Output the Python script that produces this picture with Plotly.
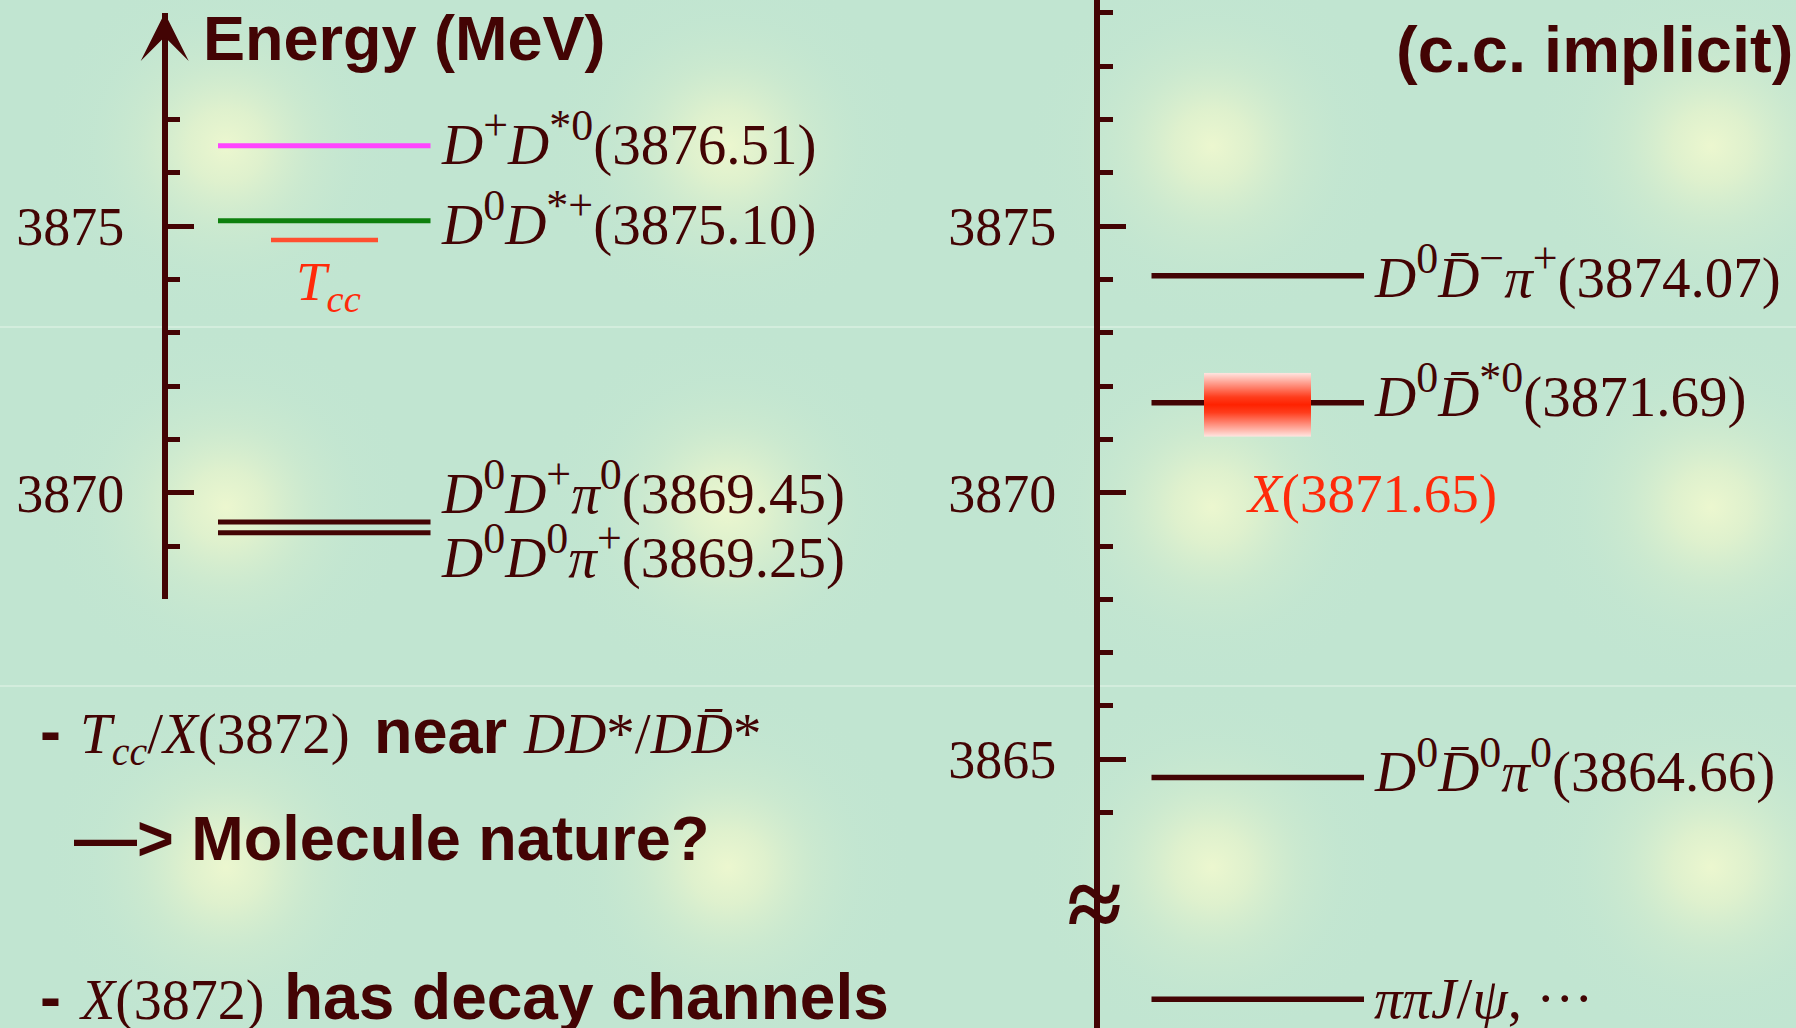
import base64
import plotly.graph_objects as go

# ---------------- data ----------------
SUP = '<sup><span style="font-size:44px">{}</span></sup>'

left_masses = [3876.51, 3875.10, 3869.45, 3869.25]
left_names = [
    "<i>D</i>" + SUP.format("+") + "<i>D</i>" + SUP.format("*0"),
    "<i>D</i>" + SUP.format("0") + "<i>D</i>" + SUP.format("*+"),
    "<i>D</i>" + SUP.format("0") + "<i>D</i>" + SUP.format("+") + "<i>π</i>" + SUP.format("0"),
    "<i>D</i>" + SUP.format("0") + "<i>D</i>" + SUP.format("0") + "<i>π</i>" + SUP.format("+"),
]
tcc_threshold = 3875.10
tcc_binding = 0.36

right_masses = [3874.07, 3871.69, 3864.66]
right_names = [
    "<i>D</i>" + SUP.format("0") + "<i>D\u0304</i>" + SUP.format("\u2212") + "<i>π</i>" + SUP.format("+"),
    "<i>D</i>" + SUP.format("0") + "<i>D\u0304</i>" + SUP.format("*0"),
    "<i>D</i>" + SUP.format("0") + "<i>D\u0304</i>" + SUP.format("0") + "<i>π</i>" + SUP.format("0"),
]
x3872_mass = 3871.65
x3872_band = [3871.05, 3872.25]
other_level = 3860.5          # schematic position below the axis break
other_name = "<i>ππJ</i>/<i>ψ</i>, ···"

left_axis_range = [3868, 3879]
left_major_ticks = [3870, 3875]
left_minor_ticks = [3869, 3871, 3872, 3873, 3874, 3876, 3877]
right_major_ticks = [3865, 3870, 3875]
right_minor_ticks = [3864, 3866, 3867, 3868, 3869, 3871, 3872, 3873, 3874,
                     3876, 3877, 3878, 3879]

# ---------------- layout / style constants ----------------
W, H = 1796, 1028
PX_PER_MEV = 53.31
E_REF, E_REF_PX = 3875.0, 226.2
LEFT_AXIS_X, RIGHT_AXIS_X = 164.7, 1096.7
LEFT_LINE_X = [218, 430.5]
RIGHT_LINE_X = [1151.5, 1364]
TCC_LINE_X = [271, 378]
XBOX_X = [1204, 1311]
LEFT_LABEL_X, RIGHT_LABEL_X = 441, 1374
LEFT_LABEL_OFF = [19.3, 24.1, -8.7, 45.3]     # baseline below level line (px)
RIGHT_LABEL_OFF = [21.5, 14.2, 14.0]
OTHER_LABEL_OFF = 18.7

DARK = "#430404"
RED = "#ff2a0a"
LEFT_COLORS = ["#ff45ff", "#0e800e", DARK, DARK]
SERIF = "Liberation Serif"
SANS = "Liberation Sans"
LBL = 57
ASC, DESC = 0.891, 0.216


def e2px(e):
    return E_REF_PX + (E_REF - e) * PX_PER_MEV


def px2e(p):
    return E_REF - (p - E_REF_PX) / PX_PER_MEV


def fx(px):
    return px / W


def fy(py):
    return 1 - py / H


def svg_uri(svg):
    return "data:image/svg+xml;base64," + base64.b64encode(svg.encode()).decode()


# ---------------- background ----------------
glow_x = [226, 728, 1212, 1711]
glow_y = [146, 507, 867]
glows = "".join(
    f'<ellipse cx="{gx}" cy="{gy}" rx="190" ry="185" fill="url(#g)"/>'
    for gx in glow_x for gy in glow_y)
bg_svg = (
    f'<svg xmlns="http://www.w3.org/2000/svg" width="{W}" height="{H}" '
    f'viewBox="0 0 {W} {H}" preserveAspectRatio="none">'
    '<defs><radialGradient id="g" cx="0.5" cy="0.5" r="0.5">'
    '<stop offset="0" stop-color="#ecf7cf" stop-opacity="1"/>'
    '<stop offset="0.2" stop-color="#e2f2cd" stop-opacity="0.9"/>'
    '<stop offset="0.45" stop-color="#d3ecce" stop-opacity="0.55"/>'
    '<stop offset="0.7" stop-color="#c8e8d0" stop-opacity="0.25"/>'
    '<stop offset="1" stop-color="#c1e5d1" stop-opacity="0"/>'
    '</radialGradient></defs>'
    f'<rect width="{W}" height="{H}" fill="#c1e5d1"/>' + glows +
    f'<rect x="0" y="326" width="{W}" height="2" fill="#d3eddd"/>'
    f'<rect x="0" y="685" width="{W}" height="2" fill="#d3eddd"/>'
    '</svg>')

box_svg = (
    '<svg xmlns="http://www.w3.org/2000/svg" width="100" height="100" '
    'viewBox="0 0 100 100" preserveAspectRatio="none">'
    '<defs><linearGradient id="r" x1="0" y1="0" x2="0" y2="1">'
    '<stop offset="0" stop-color="#ffe6e2"/>'
    '<stop offset="0.38" stop-color="#ff3c1c"/>'
    '<stop offset="0.5" stop-color="#ff2200"/>'
    '<stop offset="0.62" stop-color="#ff3c1c"/>'
    '<stop offset="1" stop-color="#ffe6e2"/>'
    '</linearGradient></defs>'
    '<rect width="100" height="100" fill="url(#r)"/></svg>')

fig = go.Figure()

# ---------------- level lines ----------------
for m, c in zip(left_masses, LEFT_COLORS):
    fig.add_trace(go.Scatter(x=LEFT_LINE_X, y=[m, m], mode="lines",
                             line=dict(color=c, width=5), xaxis="x", yaxis="y2",
                             hoverinfo="skip", showlegend=False))
tcc_mass = tcc_threshold - tcc_binding
fig.add_trace(go.Scatter(x=TCC_LINE_X, y=[tcc_mass, tcc_mass], mode="lines",
                         line=dict(color="#ff4f30", width=4.5), xaxis="x", yaxis="y2",
                         hoverinfo="skip", showlegend=False))
for m in right_masses + [other_level]:
    fig.add_trace(go.Scatter(x=RIGHT_LINE_X, y=[m, m], mode="lines",
                             line=dict(color=DARK, width=5.5), xaxis="x", yaxis="y",
                             hoverinfo="skip", showlegend=False))

annotations = []


def level_label(x, m, text, off, yref):
    annotations.append(dict(
        x=x, y=m, xref="x", yref=yref, xanchor="left", yanchor="bottom",
        yshift=-(off + DESC * LBL), text=text, showarrow=False,
        borderpad=0, borderwidth=0,
        font=dict(family=SERIF, size=LBL, color=DARK)))


for m, n, off in zip(left_masses, left_names, LEFT_LABEL_OFF):
    level_label(LEFT_LABEL_X, m, f"{n}({m:.2f})", off, "y2")
for m, n, off in zip(right_masses, right_names, RIGHT_LABEL_OFF):
    level_label(RIGHT_LABEL_X, m, f"{n}({m:.2f})", off, "y")
level_label(RIGHT_LABEL_X, other_level, other_name, OTHER_LABEL_OFF, "y")


def txt(x, y, text, family, size, color=DARK, bold=False, xanchor="left",
        yanchor="middle"):
    annotations.append(dict(
        x=fx(x), y=fy(y), xref="paper", yref="paper", xanchor=xanchor,
        yanchor=yanchor, text=text, showarrow=False, borderpad=0, borderwidth=0,
        font=dict(family=family, size=size, color=color,
                  weight="bold" if bold else "normal")))


def mid_sans(baseline, size):
    return baseline - 0.3465 * size


def mid_serif(baseline, size):
    return baseline - 0.3375 * size


# Tcc label (subscript only -> anchor at top)
txt(296, 300.5 - ASC * 55, "<i>T</i><sub><i>cc</i></sub>", SERIF, 55, RED,
    yanchor="top")
# X(3872) label
txt(1246, mid_serif(512, 55), f"<i>X</i>({x3872_mass:.2f})", SERIF, 55, RED)

# titles
txt(203, mid_sans(60, 63), "Energy (MeV)", SANS, 63, bold=True)
txt(1793, mid_sans(71.7, 65), "(c.c. implicit)", SANS, 65, bold=True,
    xanchor="right")

# bottom-left comments
b1, b2, b3 = 753, 860, 1019
txt(40, mid_sans(b1, 63), "-", SANS, 63, bold=True)
txt(80, b1 - ASC * 57, "<i>T</i><sub><i>cc</i></sub>/<i>X</i>(3872)", SERIF, 57,
    yanchor="top")
txt(374, mid_sans(b1, 63), "near", SANS, 63, bold=True)
txt(523, mid_serif(b1, 57), "<i>DD</i>*/<i>DD\u0304</i>*", SERIF, 57)
txt(74, mid_sans(b2, 63), "\u2014> Molecule nature?", SANS, 63, bold=True)
txt(40, mid_sans(b3, 63), "-", SANS, 63, bold=True)
txt(79, mid_serif(b3, 56), "<i>X</i>(3872)", SERIF, 56)
txt(284, mid_sans(b3, 64), "has decay channels", SANS, 64, bold=True)

# axis break symbol
txt(RIGHT_AXIS_X - 2, 904, "\u2248", SERIF, 100, bold=True, xanchor="center")

# arrow head on the left energy axis
annotations.append(dict(
    x=LEFT_AXIS_X, y=left_axis_range[1], xref="x", yref="y2", ax=0, ay=40,
    axref="pixel", ayref="pixel", text="", showarrow=True, arrowhead=3,
    arrowsize=1.6, arrowwidth=5, arrowcolor=DARK))

axis_common = dict(
    showline=True, linewidth=5.5, linecolor=DARK, ticks="inside", ticklen=27,
    tickwidth=5, tickcolor=DARK, showgrid=False, zeroline=False, side="left",
    tickfont=dict(family=SERIF, size=54, color=DARK), tickmode="array",
    anchor="free", fixedrange=True, ticklabelstandoff=27)

fig.update_layout(
    width=W, height=H, margin=dict(l=0, r=0, t=0, b=0),
    paper_bgcolor="#c1e5d1", plot_bgcolor="rgba(0,0,0,0)",
    showlegend=False,
    xaxis=dict(range=[0, W], domain=[0, 1], visible=False, fixedrange=True),
    yaxis=dict(range=[px2e(H), px2e(0)], domain=[0, 1],
               position=fx(RIGHT_AXIS_X), tickvals=right_major_ticks,
               ticktext=[str(t) for t in right_major_ticks],
               minor=dict(tickmode="array", tickvals=right_minor_ticks,
                          ticks="inside", ticklen=14, tickwidth=5,
                          tickcolor=DARK, showgrid=False),
               **axis_common),
    yaxis2=dict(range=left_axis_range,
                domain=[fy(e2px(left_axis_range[0])), fy(e2px(left_axis_range[1]))],
                position=fx(LEFT_AXIS_X), tickvals=left_major_ticks,
                ticktext=[str(t) for t in left_major_ticks],
                minor=dict(tickmode="array", tickvals=left_minor_ticks,
                           ticks="inside", ticklen=13, tickwidth=5,
                           tickcolor=DARK, showgrid=False),
                **axis_common),
    annotations=annotations,
    images=[
        dict(source=svg_uri(bg_svg), xref="paper", yref="paper", x=0, y=1,
             sizex=1, sizey=1, sizing="stretch", layer="below",
             xanchor="left", yanchor="top"),
        dict(source=svg_uri(box_svg), xref="x", yref="y", x=XBOX_X[0],
             y=x3872_band[1], sizex=XBOX_X[1] - XBOX_X[0],
             sizey=x3872_band[1] - x3872_band[0], sizing="stretch",
             layer="above", xanchor="left", yanchor="top"),
    ],
)

fig.write_html("out.html", config={"displayModeBar": False},
               post_script="document.body.style.margin='0';"
                           "document.body.style.overflow='hidden';")
